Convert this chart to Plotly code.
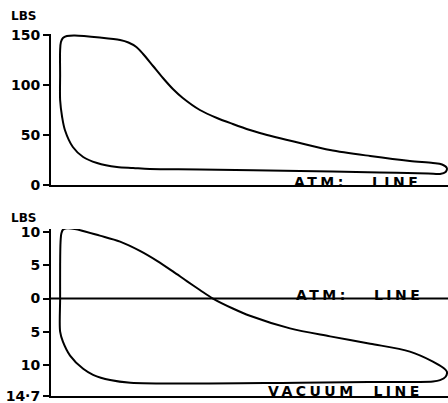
import plotly.graph_objects as go
from plotly.subplots import make_subplots

# Stroke position (% of stroke) and pressure (lbs) -- high-pressure card
hp_stroke = [2.3, 2.3, 2.3, 2.5, 3.0, 4.0, 6.0, 12.3, 17.4, 19.5, 21.5, 23.2, 25.7, 28.2, 30.7,
             33.2, 37.5, 41.8, 45.8, 50.1, 52.6, 62.7, 70.3, 80.4, 90.4, 96.2, 98.5, 99.7,
             99.4, 98.0, 95.0, 82.8, 62.7, 37.5, 24.9, 20.7, 16.6, 11.6, 8.1, 5.5, 3.5,
             2.8, 2.3]
hp_pressure = [85, 110, 135, 143, 147, 149, 149.5, 147.5, 145, 142.5, 138, 131, 119, 107, 96,
               87, 75, 67, 61, 55, 52, 42, 35, 29, 24, 22, 20.5, 17,
               13, 11, 11.5, 12.5, 14, 15.5, 16, 17, 18, 22, 28, 38, 55,
               68, 85]

# Low-pressure card (above / below atmosphere)
lp_stroke = [2.3, 2.3, 2.3, 2.4, 2.6, 3.0, 4.0, 6.0, 12.3, 17.4, 22.4, 26.7, 30.7, 34.3,
             37.5, 40.8, 45.8, 50.1, 60.2, 70.3, 80.4, 90.4, 96.2, 98.7, 99.7, 99.4, 98.0,
             96.2, 80.0, 62.7, 20.0, 14.9, 10.6, 8.1, 4.8, 3.0, 2.3]
lp_pressure = [-5.0, 0, 5.0, 8.5, 9.8, 10.4, 10.6, 10.5, 9.5, 8.6, 7.2, 5.7, 4.1, 2.6,
               1.3, 0, -1.5, -2.6, -4.5, -5.7, -6.8, -8.0, -9.5, -10.4, -11.0, -11.8, -12.3,
               -12.5, -12.6, -12.7, -12.7, -12.3, -11.5, -10.6, -8.6, -6.5, -5.0]

hp_ticks = [0, 50, 100, 150]
hp_ticktext = ["0", "50", "100", "150"]
lp_ticks = [-14.7, -10, -5, 0, 5, 10]
lp_ticktext = ["14·7", "10", "5", "0", "5", "10"]

FONT = "DejaVu Sans"

fig = make_subplots(rows=2, cols=1)

curve_line = dict(color="black", width=2, shape="spline", smoothing=0.9)
fig.add_trace(go.Scatter(x=hp_stroke, y=hp_pressure, mode="lines", line=curve_line,
                         showlegend=False, hoverinfo="skip", cliponaxis=False), row=1, col=1)
fig.add_trace(go.Scatter(x=lp_stroke, y=lp_pressure, mode="lines", line=curve_line,
                         showlegend=False, hoverinfo="skip", cliponaxis=False), row=2, col=1)

# Atmospheric line on the low-pressure card
fig.add_shape(type="line", xref="x2", yref="y2", x0=0, x1=100, y0=0, y1=0,
              line=dict(color="black", width=2))

tickfont = dict(family=FONT, size=14, color="black", weight="bold")
axis_common = dict(showgrid=False, zeroline=False, showline=True, linecolor="black",
                   linewidth=2, ticks="outside", ticklen=6, tickwidth=2, tickcolor="black",
                   tickfont=tickfont, mirror=False, automargin=False,
                   ticklabeloverflow="allow")

fig.update_xaxes(range=[0, 100], showgrid=False, zeroline=False, showline=True,
                 linecolor="black", linewidth=2, showticklabels=False, ticks="",
                 automargin=False)
fig.update_xaxes(domain=[0, 1], row=1, col=1)
fig.update_xaxes(domain=[0, 1], row=2, col=1)

fig.update_yaxes(range=[0, 151], tickvals=hp_ticks, ticktext=hp_ticktext,
                 domain=[1 - 185 / 403, 1 - 34 / 403], **axis_common, row=1, col=1)
fig.update_yaxes(range=[-14.7, 10.5], tickvals=lp_ticks, ticktext=lp_ticktext,
                 domain=[1 - 396 / 403, 1 - 229 / 403], **axis_common, row=2, col=1)

labfont = dict(family=FONT, size=14, color="black", weight="bold")
span = '<span style="letter-spacing:3.5px">{}</span>'
fig.add_annotation(x=77.3, y=3, xref="x", yref="y", text=span.format("ATM:   LINE"),
                   showarrow=False, font=labfont, xanchor="center", yanchor="middle")
fig.add_annotation(x=77.8, y=0.5, xref="x2", yref="y2", text=span.format("ATM:   LINE"),
                   showarrow=False, font=labfont, xanchor="center", yanchor="middle")
fig.add_annotation(x=74.3, y=-14.0, xref="x2", yref="y2", text=span.format("VACUUM  LINE"),
                   showarrow=False, font=labfont, xanchor="center", yanchor="middle")

lbsfont = dict(family=FONT, size=12, color="black", weight="bold")
fig.add_annotation(x=(9 - 51) / 397, y=1 - 16 / 403, xref="paper", yref="paper", text="LBS",
                   showarrow=False, font=lbsfont, xanchor="left", yanchor="middle")
fig.add_annotation(x=(9 - 51) / 397, y=1 - 218 / 403, xref="paper", yref="paper", text="LBS",
                   showarrow=False, font=lbsfont, xanchor="left", yanchor="middle")

fig.update_layout(width=448, height=403, margin=dict(l=51, r=0, t=0, b=0, autoexpand=False),
                  paper_bgcolor="white", plot_bgcolor="white")
fig.write_html("out.html", config={"displayModeBar": False},
               post_script="document.body.style.margin='0';document.body.style.overflow='hidden';")
